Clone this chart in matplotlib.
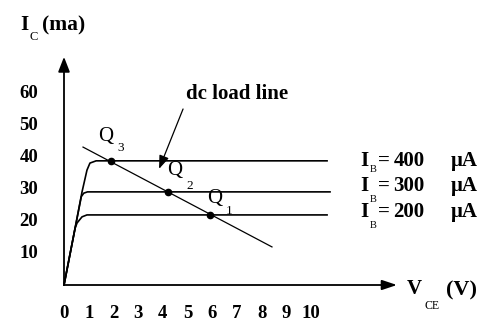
import matplotlib
matplotlib.use('Agg')
import matplotlib.pyplot as plt

plt.rcParams['font.family'] = ['Liberation Serif', 'DejaVu Serif']

# Transistor output curves (V_CE in volts, I_C in mA)
vce_400 = [0, 0.45, 0.73, 0.93, 1.05, 1.3, 10.65]
ic_400 = [0, 17.8, 29.1, 35.9, 38.1, 38.8, 38.8]
vce_300 = [0, 0.45, 0.70, 0.80, 0.95, 10.77]
ic_300 = [0, 17.8, 27.6, 28.7, 29.1, 29.1]
vce_200 = [0, 0.45, 0.53, 0.73, 0.93, 10.65]
ic_200 = [0, 17.8, 19.4, 21.3, 21.9, 21.9]

# dc load line end points
load_v = [0.77, 8.42]
load_i = [43.1, 11.9]

# operating points
q_names = ['3', '2', '1']
q_v = [1.9, 4.21, 5.91]
q_i = [38.6, 29.1, 21.9]

x_ticks = [0, 1, 2, 3, 4, 5, 6, 7, 8, 9, 10]
y_ticks = [10, 20, 30, 40, 50, 60]
ib_labels = ['400', '300', '200']

W, H = 486, 325
fig = plt.figure(figsize=(W / 100, H / 100), dpi=100)
ax = fig.add_axes([0, 0, 1, 1])
sx, sy = 24.7, 3.2      # pixels per volt / per mA
ox, oy = 64, 285        # origin in pixels
ax.set_xlim(-ox / sx, (W - ox) / sx)
ax.set_ylim(-(H - oy) / sy, oy / sy)
ax.axis('off')


def px(x, y):
    return (x / W, 1 - y / H)


def ftext(x, y, s, size=13, weight='bold', **kw):
    fig.text(*px(x, y), s, fontsize=size, fontweight=weight,
             ha=kw.pop('ha', 'center'), va=kw.pop('va', 'center'), **kw)


# axes with arrows
ax.annotate('', xy=(0, 71.3), xytext=(0, 0),
            arrowprops=dict(arrowstyle='-|>,head_length=0.9,head_width=0.35',
                            color='black', lw=1.3, shrinkA=0, shrinkB=0))
ax.annotate('', xy=(13.48, 0), xytext=(0, 0),
            arrowprops=dict(arrowstyle='-|>,head_length=0.9,head_width=0.3',
                            color='black', lw=1.3, shrinkA=0, shrinkB=0))

# curves
for v, i in [(vce_400, ic_400), (vce_300, ic_300), (vce_200, ic_200)]:
    ax.plot(v, i, color='black', lw=1.2, solid_joinstyle='round')

# load line and Q points
ax.plot(load_v, load_i, color='black', lw=0.9)
ax.plot(q_v, q_i, 'o', color='black', markersize=4.5)

# load line pointer
ax.annotate('', xy=(3.85, 36.3), xytext=(4.82, 55),
            arrowprops=dict(arrowstyle='-|>,head_length=0.8,head_width=0.3',
                            color='black', lw=0.9, shrinkA=0, shrinkB=0))
ftext(186, 94, 'dc load line', size=15, ha='left')

# tick labels
for t in x_ticks:
    ax.text(t, -8.75, str(t), fontsize=13.5, fontweight='bold',
            ha='center', va='center')
for t in y_ticks:
    ax.text(-1.42, t, str(t), fontsize=13.5, fontweight='bold',
            ha='center', va='center')

# Q labels
q_pos = [((106, 136), (121, 148)), ((175, 170), (190, 186)),
         ((215, 199), (229, 211))]
for name, (qp, sp) in zip(q_names, q_pos):
    ftext(*qp, 'Q', size=15, weight='normal')
    ftext(*sp, name, size=9.5, weight='normal')

# I_B labels
ib_rows = [(161, 170), (186, 200), (212, 226)]
for lab, (ry, by) in zip(ib_labels, ib_rows):
    ftext(364, ry, 'I', size=15)
    ftext(373, by, 'B', size=7.5, weight='normal')
    ftext(384, ry, '=', size=15)
    ftext(409, ry, lab, size=15)
    ftext(464, ry, 'μA', size=15)

# axis titles
ftext(24, 25, 'I', size=15)
ftext(34, 37, 'C', size=9, weight='normal')
ftext(64, 25, '(ma)', size=15.5)
ftext(414, 289, 'V', size=15)
ftext(432, 306, 'CE', size=8.5, weight='normal')
ftext(461, 290, '(V)', size=16)

fig.savefig('out.png', dpi=100)
